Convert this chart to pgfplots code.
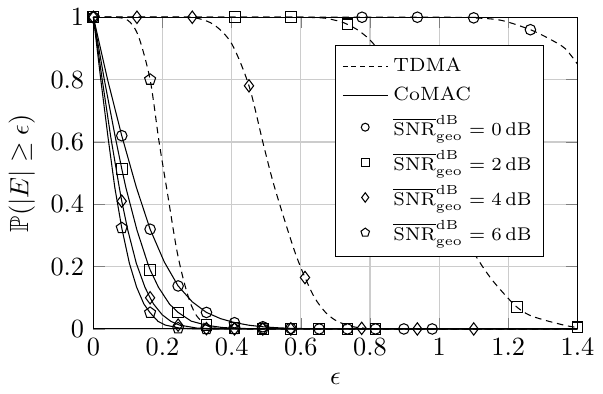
\documentclass[border=0pt]{standalone}
\usepackage{amssymb}
\usepackage{pgfplots}
\pgfplotsset{compat=1.18}
\begin{document}
\begin{tikzpicture}
\begin{axis}[
  scale only axis,
  width=184pt, height=118.5pt,
  xmin=0, xmax=1.4, ymin=0, ymax=1,
  xtick={0,0.2,0.4,0.6,0.8,1,1.2,1.4},
  ytick={0,0.2,0.4,0.6,0.8,1},
  grid=major,
  major grid style={color=black!20, line width=0.45pt},
  xlabel={$\epsilon$},
  ylabel={$\mathbb{P}(|E| \geq \epsilon)$},
  ylabel style={yshift=-1pt},
  clip=false,
  every axis plot/.append style={black, line width=0.4pt},
  mark options={solid, fill=white, scale=1},
  mark size=2pt,
  legend style={at={(0.5,0.91)}, anchor=north west, draw=black, fill=white,
    font=\fontsize{7.3}{9}\selectfont, cells={anchor=west}, row sep=0.3pt, inner sep=2.4pt},
  legend image post style={black},
]
% legend
\addlegendimage{dash pattern=on 1.8pt off 1.5pt}
\addlegendentry{TDMA}
\addlegendimage{solid}
\addlegendentry{CoMAC}
\addlegendimage{only marks, mark=o, mark size=1.5pt}
\addlegendentry{$\overline{\mathrm{SNR}}^{\mathrm{dB}}_{\mathrm{geo}} = 0\,\mathrm{dB}$}
\addlegendimage{only marks, mark=square, mark size=1.5pt}
\addlegendentry{$\overline{\mathrm{SNR}}^{\mathrm{dB}}_{\mathrm{geo}} = 2\,\mathrm{dB}$}
\addlegendimage{only marks, mark=diamond, mark size=1.8pt}
\addlegendentry{$\overline{\mathrm{SNR}}^{\mathrm{dB}}_{\mathrm{geo}} = 4\,\mathrm{dB}$}
\addlegendimage{only marks, mark=pentagon, mark size=1.7pt}
\addlegendentry{$\overline{\mathrm{SNR}}^{\mathrm{dB}}_{\mathrm{geo}} = 6\,\mathrm{dB}$}

% TDMA lines
\addplot[forget plot, no marks, dash pattern=on 2.5pt off 1.8pt, smooth] coordinates {
(0,1)(1.0,1)(1.1,0.998)(1.18,0.99)(1.264,0.96)(1.32,0.93)(1.364,0.9)(1.4,0.85)};
\addplot[forget plot, no marks, dash pattern=on 2.5pt off 1.8pt, smooth] coordinates {
(0,1)(0.6,1)(0.7,0.99)(0.735,0.977)(0.77,0.955)(0.81,0.915)(0.86,0.83)(0.9,0.74)(0.95,0.6)(1.0,0.47)(1.05,0.34)(1.11,0.227)(1.15,0.162)(1.19,0.11)(1.225,0.07)(1.26,0.045)(1.306,0.028)(1.37,0.01)(1.4,0.005)};
\addplot[forget plot, no marks, dash pattern=on 2.5pt off 1.8pt, smooth] coordinates {
(0,1)(0.25,1)(0.3,0.997)(0.35,0.975)(0.4,0.915)(0.45,0.78)(0.49,0.6)(0.52,0.47)(0.557,0.335)(0.585,0.24)(0.612,0.165)(0.64,0.1)(0.67,0.055)(0.70,0.028)(0.74,0.01)(0.78,0.003)(0.85,0)(1.4,0)};
\addplot[forget plot, no marks, dash pattern=on 2.5pt off 1.8pt, smooth] coordinates {
(0,1)(0.06,1)(0.1,0.99)(0.13,0.94)(0.164,0.8)(0.19,0.6)(0.215,0.43)(0.24,0.26)(0.26,0.16)(0.28,0.085)(0.30,0.04)(0.33,0.01)(0.36,0.002)(0.4,0)(1.4,0)};

% CoMAC lines
\addplot[forget plot, no marks, solid] coordinates {
(0,1)(0.041,0.80)(0.082,0.62)(0.124,0.455)(0.164,0.32)(0.205,0.215)(0.245,0.138)(0.286,0.087)(0.327,0.053)(0.368,0.033)(0.41,0.02)(0.45,0.012)(0.49,0.007)(0.53,0.004)(0.57,0.002)(0.65,0.0005)(0.75,0)(1.4,0)};
\addplot[forget plot, no marks, solid] coordinates {
(0,1)(0.031,0.803)(0.063,0.617)(0.082,0.514)(0.094,0.453)(0.126,0.317)(0.157,0.211)(0.164,0.19)(0.188,0.134)(0.22,0.080)(0.245,0.053)(0.283,0.025)(0.327,0.012)(0.37,0.005)(0.41,0.002)(0.49,0.0004)(0.6,0)(1.4,0)};
\addplot[forget plot, no marks, solid] coordinates {
(0,1)(0.025,0.803)(0.05,0.617)(0.075,0.453)(0.082,0.41)(0.0995,0.317)(0.124,0.211)(0.149,0.134)(0.164,0.10)(0.174,0.080)(0.199,0.0455)(0.224,0.0244)(0.249,0.0124)(0.30,0.0027)(0.35,0.0005)(0.45,0)(1.4,0)};
\addplot[forget plot, no marks, solid] coordinates {
(0,1)(0.021,0.803)(0.042,0.617)(0.062,0.453)(0.082,0.324)(0.104,0.211)(0.125,0.134)(0.146,0.080)(0.164,0.052)(0.187,0.0244)(0.208,0.0124)(0.25,0.0027)(0.29,0.0005)(0.35,0)(1.4,0)};

% markers: circles (0 dB)
\addplot[forget plot, only marks, mark=o] coordinates {
(0,1)(0.082,0.62)(0.164,0.32)(0.245,0.138)(0.327,0.053)(0.408,0.02)(0.49,0.007)(0.571,0.002)(0.653,0)(0.735,0)(0.816,0)(0.898,0)(0.98,0)
(0.777,1)(0.937,1)(1.10,0.998)(1.264,0.96)};
% squares (2 dB)
\addplot[forget plot, only marks, mark=square, mark size=2.05pt] coordinates {
(0,1)(0.082,0.514)(0.164,0.19)(0.245,0.053)(0.327,0.012)(0.408,0.002)(0.49,0)(0.571,0)(0.653,0)(0.735,0)(0.816,0)
(0.409,1)(0.572,1)(0.735,0.977)(1.225,0.07)(1.4,0.005)};
% diamonds (4 dB)
\addplot[forget plot, only marks, mark=diamond, mark size=2.35pt] coordinates {
(0,1)(0.082,0.41)(0.164,0.10)(0.245,0.0124)(0.327,0.001)(0.408,0)(0.49,0)(0.571,0)
(0.126,1)(0.286,1)(0.45,0.78)(0.612,0.165)(0.776,0.002)(0.937,0)(1.10,0)};
% pentagons (6 dB)
\addplot[forget plot, only marks, mark=pentagon, mark size=2.2pt] coordinates {
(0,1)(0.082,0.324)(0.164,0.052)(0.245,0.0027)(0.327,0)(0.408,0)(0.49,0)
(0.164,0.8)};
\end{axis}
\end{tikzpicture}
\end{document}
